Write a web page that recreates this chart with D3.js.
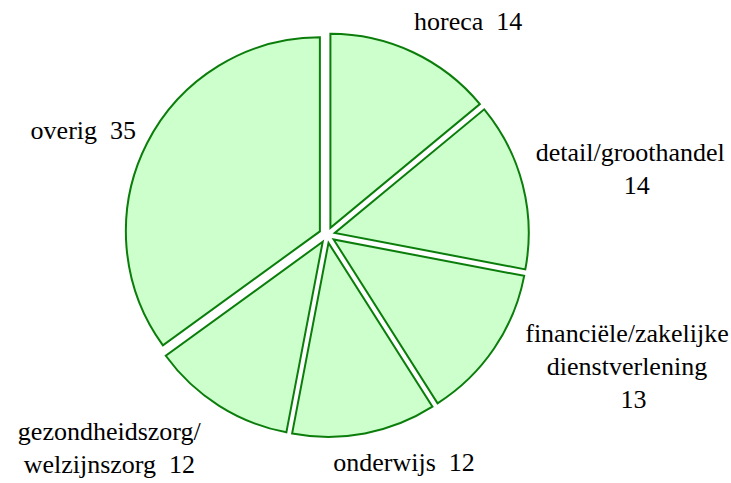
<!DOCTYPE html>
<html>
<head>
<meta charset="utf-8">
<script src="https://cdn.jsdelivr.net/npm/d3@7"></script>
<style>
  svg text { font-family: "Liberation Serif", Tinos, "Times New Roman", serif !important; }
</style>
</head>
<body style="margin:0">
<svg id="chart" width="731" height="483"></svg>
<script>
// ---- data ----
const categories = ["horeca", "detail/groothandel", "financiële/zakelijke dienstverlening", "onderwijs", "gezondheidszorg/ welzijnszorg", "overig"];
const values = [14, 14, 13, 12, 12, 35];
// how each label is wrapped (category words per line; "" = value on its own line)
const labelLines = [
  ["horeca"],
  ["detail/groothandel", ""],
  ["financiële/zakelijke", "dienstverlening", ""],
  ["onderwijs"],
  ["gezondheidszorg/", "welzijnszorg"],
  ["overig"]
];

// ---- layout ----
const cx = 327, cy = 235, radius = 194, explode = 8;
const labelRadius = radius + explode + 12;
const lineHeight = 33;
const GAP = "\u00A0\u00A0";
// nudge of each label block (centre x, first baseline y) from its arc anchor
const labelNudge = [[50, -11], [96, -21], [123, -13], [37, 26], [-103, 24], [-53, 1]];

const svg = d3.select("#chart");

const pie = d3.pie().sort(null).startAngle(0).endAngle(2 * Math.PI);
const arcs = pie(values);
const arc = d3.arc().innerRadius(0).outerRadius(radius);
const labelArc = d3.arc().innerRadius(labelRadius).outerRadius(labelRadius);

// slices
const g = svg.append("g").attr("transform", `translate(${cx},${cy})`);
g.selectAll("path.slice")
  .data(arcs)
  .join("path")
  .attr("class", "slice")
  .attr("d", arc)
  .attr("transform", d => {
    const m = (d.startAngle + d.endAngle) / 2;
    return `translate(${Math.sin(m) * explode},${-Math.cos(m) * explode})`;
  })
  .attr("fill", "#ccffcc")
  .attr("stroke", "#0b7d0b")
  .attr("stroke-width", 2)
  .attr("stroke-linejoin", "miter");

// labels
arcs.forEach((d, i) => {
  const [ax, ay] = labelArc.centroid(d);
  const [nx, ny] = labelNudge[i];
  const lines = labelLines[i].slice();
  const last = lines.length - 1;
  if (lines[last] === "") {
    lines[last] = GAP + values[i];
  } else {
    lines[last] = lines[last] + GAP + values[i];
  }
  lines.forEach((ln, j) => {
    svg.append("text")
      .attr("x", cx + ax + nx)
      .attr("y", cy + ay + ny + j * lineHeight)
      .attr("text-anchor", "middle")
      .attr("font-family", "Liberation Serif")
      .style("font-family", '"Liberation Serif", Tinos, serif', "important")
      .style("font-size", "26px")
      .style("fill", "#000000")
      .text(ln);
  });
});
</script>
</body>
</html>
